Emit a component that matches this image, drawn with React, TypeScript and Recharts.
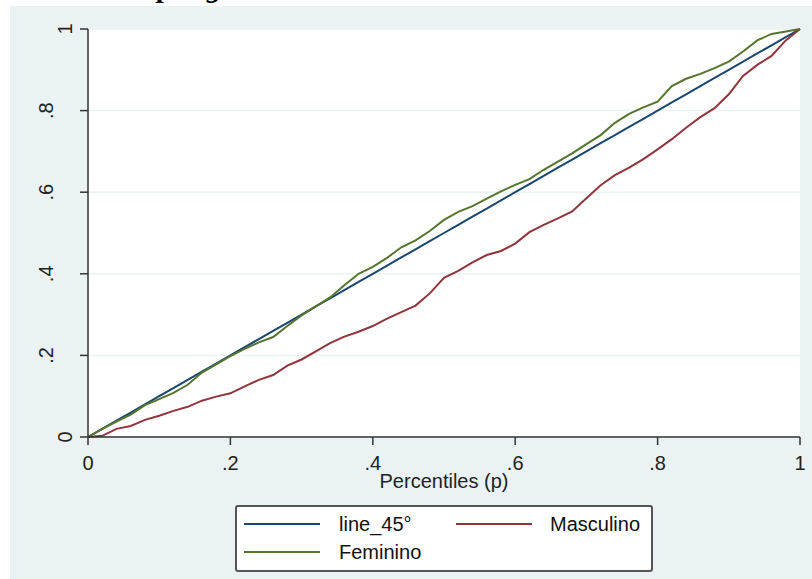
import { LineChart, Line, XAxis, YAxis, CartesianGrid } from 'recharts'

// percentiles (p)
const percentiles = [
  0, 0.02, 0.04, 0.06, 0.08, 0.1, 0.12, 0.14, 0.16, 0.18, 0.2, 0.22, 0.24, 0.26, 0.28, 0.3, 0.32, 0.34,
  0.36, 0.38, 0.4, 0.42, 0.44, 0.46, 0.48, 0.5, 0.52, 0.54, 0.56, 0.58, 0.6, 0.62, 0.64, 0.66, 0.68,
  0.7, 0.72, 0.74, 0.76, 0.78, 0.8, 0.82, 0.84, 0.86, 0.88, 0.9, 0.92, 0.94, 0.96, 0.98, 1,
]
const line45 = percentiles.slice()
const masculino = [
  0, 0.003, 0.02, 0.027, 0.042, 0.052, 0.064, 0.074, 0.089, 0.099, 0.107, 0.124, 0.14, 0.152, 0.175,
  0.19, 0.21, 0.23, 0.246, 0.258, 0.272, 0.29, 0.306, 0.322, 0.352, 0.39, 0.407, 0.428, 0.446, 0.456,
  0.474, 0.502, 0.52, 0.536, 0.553, 0.585, 0.617, 0.642, 0.66, 0.681, 0.705, 0.73, 0.758, 0.784, 0.806,
  0.84, 0.885, 0.912, 0.934, 0.972, 1,
]
const feminino = [
  0, 0.02, 0.038, 0.055, 0.078, 0.093, 0.108, 0.128, 0.158, 0.178, 0.198, 0.216, 0.232, 0.245, 0.272,
  0.298, 0.32, 0.342, 0.372, 0.4, 0.417, 0.439, 0.465, 0.482, 0.505, 0.532, 0.552, 0.566, 0.584, 0.602,
  0.618, 0.632, 0.655, 0.675, 0.695, 0.718, 0.74, 0.77, 0.792, 0.808, 0.822, 0.86, 0.878, 0.89, 0.904,
  0.92, 0.945, 0.972, 0.988, 0.994, 1,
]
const ticks = [0, 0.2, 0.4, 0.6, 0.8, 1]

const NAVY = '#1a476f'
const MAROON = '#90353b'
const GREEN = '#55752f'
const BG = '#eaf2f3'
const AXIS = '#333'

const rows = percentiles.map((p, i) => ({
  p,
  line45: line45[i],
  masculino: masculino[i],
  feminino: feminino[i],
}))

const fmt = (v: number) => (v === 0 ? '0' : v === 1 ? '1' : String(v).replace(/^0/, ''))

const YTick = (props: any) => {
  const { y, payload } = props
  const label = fmt(payload.value)
  const bx = label.startsWith('.') ? 43 : 62
  return (
    <text x={bx} y={y} transform={`rotate(-90 ${bx} ${y})`} textAnchor="middle" fontSize={20} fill="#222">
      {label}
    </text>
  )
}

const XLabel = (props: any) => {
  const vb = props.viewBox || { x: 78, y: 431, width: 712 }
  return (
    <text x={vb.x + vb.width / 2} y={vb.y + 51} textAnchor="middle" fontSize={20} fill="#222">
      Percentiles (p)
    </text>
  )
}

const legendItems = [
  { name: 'line_45°', color: NAVY, key: 7, text: 102, row: 17 },
  { name: 'Masculino', color: MAROON, key: 219, text: 313, row: 17 },
  { name: 'Feminino', color: GREEN, key: 7, text: 102, row: 45 },
]

export default function App() {
  return (
    <div
      style={{
        position: 'absolute',
        left: 0,
        top: 0,
        width: 812,
        height: 579,
        background: '#fff',
        overflow: 'hidden',
        fontFamily: '"Liberation Sans", Arial, sans-serif',
      }}
    >
      <div style={{ position: 'absolute', left: 10, top: 6, width: 802, height: 573, background: BG }}>
        <LineChart width={802} height={573} data={rows} margin={{ top: 23, right: 12, bottom: 82, left: 0 }}>
          <CartesianGrid vertical={false} fill="#fff" stroke={BG} strokeWidth={1.5} />
          <XAxis
            dataKey="p"
            type="number"
            domain={[0, 1]}
            ticks={ticks}
            tickFormatter={fmt}
            tickSize={8}
            tickMargin={11}
            height={60}
            stroke={AXIS}
            strokeWidth={1.5}
            tick={{ fontSize: 20, fill: '#222' }}
            label={{ content: XLabel }}
          />
          <YAxis
            type="number"
            domain={[0, 1]}
            ticks={ticks}
            tickSize={8}
            width={78}
            stroke={AXIS}
            strokeWidth={1.5}
            tick={YTick}
          />
          <Line type="linear" dataKey="line45" stroke={NAVY} strokeWidth={2} dot={false} isAnimationActive={false} />
          <Line type="linear" dataKey="masculino" stroke={MAROON} strokeWidth={2} dot={false} isAnimationActive={false} />
          <Line type="linear" dataKey="feminino" stroke={GREEN} strokeWidth={2} dot={false} isAnimationActive={false} />
        </LineChart>
        <div
          style={{
            position: 'absolute',
            left: 225,
            top: 499,
            width: 418,
            height: 67,
            boxSizing: 'border-box',
            border: '2px solid #555',
            borderRadius: 3,
            background: '#fff',
          }}
        >
          {legendItems.map((it) => (
            <div key={it.name}>
              <div
                style={{
                  position: 'absolute',
                  left: it.key,
                  top: it.row - 1,
                  width: 76,
                  height: 2,
                  background: it.color,
                }}
              />
              <div
                style={{
                  position: 'absolute',
                  left: it.text,
                  top: it.row - 12,
                  height: 24,
                  lineHeight: '24px',
                  fontSize: 20,
                  color: '#111',
                  whiteSpace: 'nowrap',
                }}
              >
                {it.name}
              </div>
            </div>
          ))}
        </div>
      </div>
      <div style={{ position: 'absolute', left: 0, top: 0, width: 812, height: 10, overflow: 'hidden' }}>
        <div
          style={{
            position: 'absolute',
            right: 520,
            top: -28,
            fontFamily: '"Liberation Serif", serif',
            fontStyle: 'italic',
            fontWeight: 'bold',
            fontSize: 30,
            lineHeight: '30px',
            whiteSpace: 'nowrap',
            color: '#000',
          }}
        >
          Gráfico 3. Curva de concentración del resultado por género
        </div>
      </div>
    </div>
  )
}
